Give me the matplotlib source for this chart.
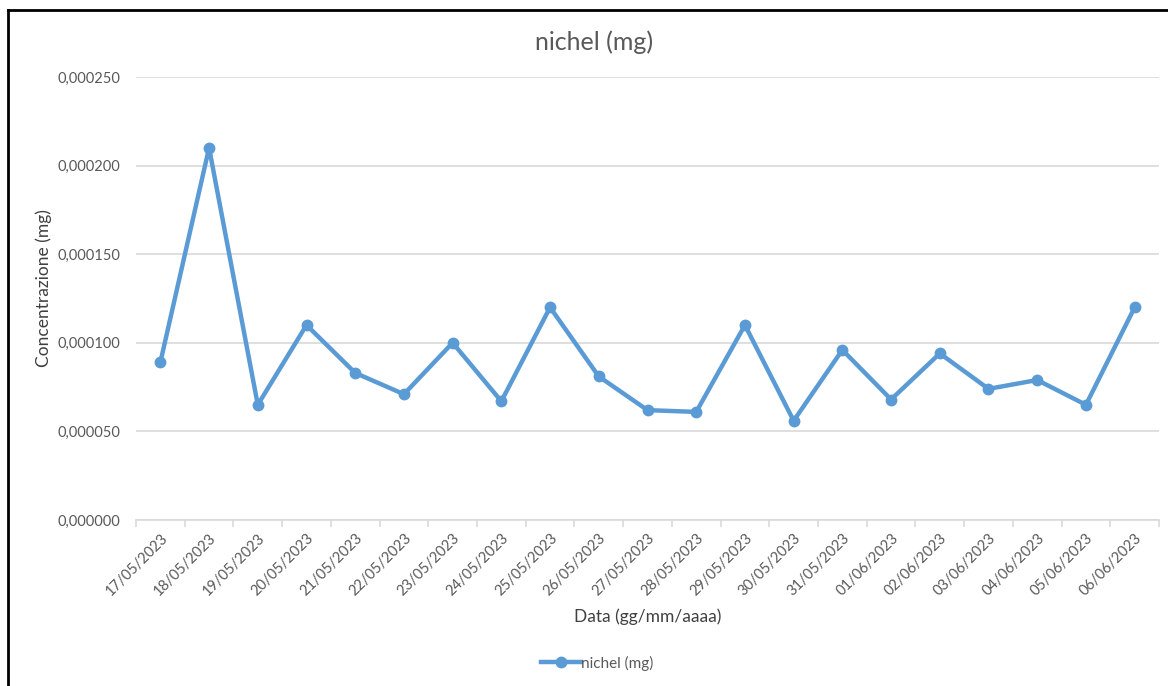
import numpy as np
import matplotlib
from matplotlib import pyplot as plt
from matplotlib.ticker import FuncFormatter, MultipleLocator

# Data
dates = [
    "17/05/2023", "18/05/2023", "19/05/2023", "20/05/2023", "21/05/2023",
    "22/05/2023", "23/05/2023", "24/05/2023", "25/05/2023", "26/05/2023",
    "27/05/2023", "28/05/2023", "29/05/2023", "30/05/2023", "31/05/2023",
    "01/06/2023", "02/06/2023", "03/06/2023", "04/06/2023", "05/06/2023",
    "06/06/2023",
]
nichel = [
    0.000089, 0.000210, 0.000065, 0.000110, 0.000083,
    0.000071, 0.000100, 0.000067, 0.000120, 0.000081,
    0.000062, 0.000061, 0.000110, 0.000056, 0.000096,
    0.000068, 0.000094, 0.000074, 0.000079, 0.000065,
    0.000120,
]

grey_text = "#595959"
grid_col = "#d9d9d9"
blue = "#5b9bd5"

matplotlib.rc("font", family=["Lato", "DejaVu Sans"], size=10.5)

fig = plt.figure(figsize=(11.68, 6.86), dpi=100)
ax = fig.add_axes([136 / 1168, 1 - 520 / 686, (1159 - 136) / 1168, (520 - 77) / 686])

x = np.arange(len(dates))
ax.plot(x, nichel, color=blue, linewidth=3.2, marker="o", markersize=7.5,
        label="nichel (mg)", solid_joinstyle="round")

ax.set_xlim(-0.5, len(dates) - 0.5)
ax.set_ylim(0, 0.00025)
ax.yaxis.set_major_locator(MultipleLocator(0.00005))
ax.yaxis.set_major_formatter(FuncFormatter(lambda v, p: f"{v:.6f}".replace(".", ",")))
ax.grid(axis="y", color=grid_col, linewidth=1.2)
ax.set_axisbelow(True)

ax.set_xticks(x)
ax.set_xticklabels(dates, rotation=45, ha="right", rotation_mode="anchor", color=grey_text)
ax.set_xticks(np.arange(len(dates) + 1) - 0.5, minor=True)
ax.tick_params(axis="x", which="major", length=0, pad=8)
ax.tick_params(axis="x", which="minor", length=5, color=grid_col, width=1.2)
ax.tick_params(axis="y", length=0, pad=11, labelcolor=grey_text)

for s in ["top", "right", "left"]:
    ax.spines[s].set_visible(False)
ax.spines["bottom"].set_color(grid_col)
ax.spines["bottom"].set_linewidth(1.2)

fig.text(594 / 1168, 1 - 42 / 686, "nichel (mg)", ha="center", va="center",
         fontsize=18, color=grey_text)
fig.text(44 / 1168, 1 - 288 / 686, "Concentrazione (mg)", ha="center", va="center",
         rotation=90, fontsize=12.5, color="#404040")
fig.text(648 / 1168, 1 - 617 / 686, "Data (gg/mm/aaaa)", ha="center", va="center",
         fontsize=12.5, color="#404040")

fig.legend(loc="center", bbox_to_anchor=(597 / 1168, 1 - 663 / 686), frameon=False,
           labelcolor=grey_text, handlelength=2.6, handletextpad=0.0, fontsize=11)

# Border lines on the left and top of the chart area
fig.add_artist(plt.Line2D([8 / 1168, 8 / 1168], [0, 1 - 10 / 686], color="black", linewidth=2,
                          transform=fig.transFigure))
fig.add_artist(plt.Line2D([8 / 1168, 1], [1 - 10 / 686, 1 - 10 / 686], color="black", linewidth=2,
                          transform=fig.transFigure))

plt.savefig("out.png", dpi=100)
